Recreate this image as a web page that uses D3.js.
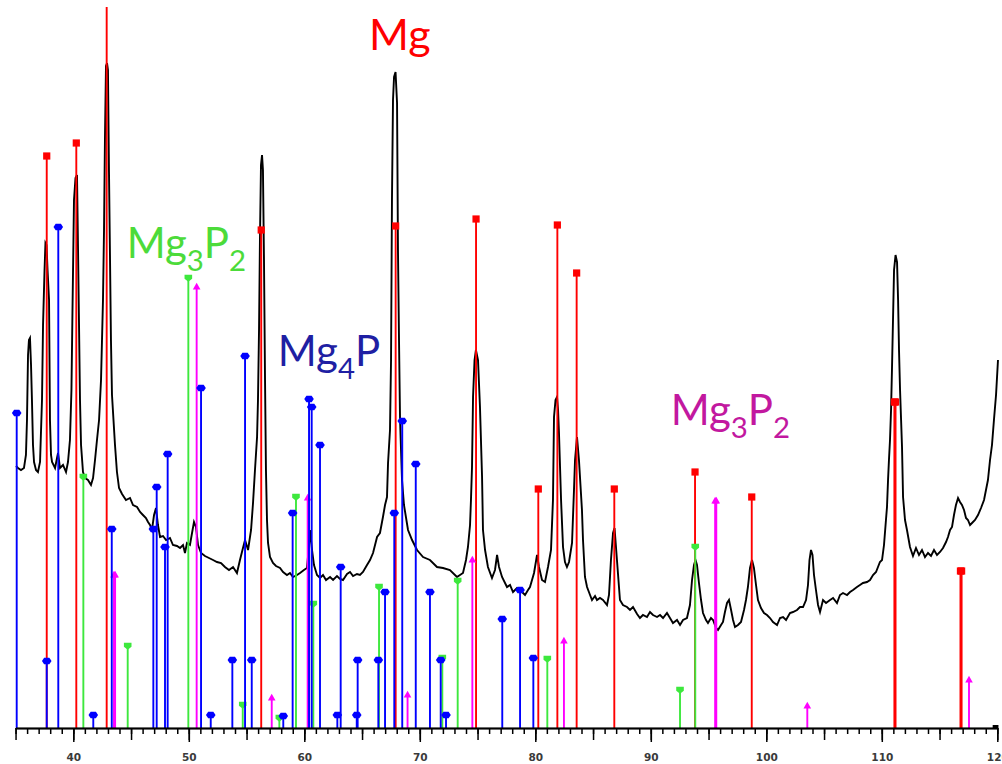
<!DOCTYPE html>
<html><head><meta charset="utf-8">
<script src="https://cdn.jsdelivr.net/npm/d3@7"></script>
<style>html,body{margin:0;padding:0;background:#fff;overflow:hidden}</style>
</head><body><svg id="chart" width="1002" height="764"></svg>
<script>
// Measured XRD pattern: [2theta (deg), intensity (a.u.)]
const patternPoints = [
[35.04,262],[35.21,260],[35.47,258],[35.73,260],[35.90,273],[35.99,308],[36.08,373],[36.16,388],[36.25,390],[36.34,363],[36.42,328],[36.51,283],[36.60,266],[36.77,258],[36.94,256],[37.12,266],[37.29,328],[37.38,403],[37.51,458],[37.59,485],[37.68,483],[37.77,458],[37.90,428],[37.98,308],[38.07,273],[38.16,266],[38.42,260],[38.59,270],[38.68,275],[38.85,260],[39.11,263],[39.37,256],[39.54,266],[39.71,288],[39.84,338],[39.93,418],[40.06,528],[40.19,550],[40.32,553],[40.41,478],[40.49,408],[40.58,328],[40.67,283],[40.84,256],[41.01,250],[41.27,248],[41.53,243],[41.71,250],[41.88,268],[42.05,288],[42.23,308],[42.40,348],[42.57,428],[42.66,498],[42.74,588],[42.83,662],[42.92,665],[43.00,658],[43.09,556],[43.18,468],[43.26,388],[43.35,333],[43.61,283],[43.78,256],[43.96,240],[44.22,234],[44.56,228],[44.91,230],[45.17,223],[45.52,221],[45.78,216],[46.03,213],[46.29,210],[46.47,206],[46.64,203],[46.81,198],[46.99,213],[47.16,220],[47.33,203],[47.51,191],[47.77,192],[48.03,188],[48.37,190],[48.63,183],[48.98,182],[49.24,180],[49.50,183],[49.67,175],[49.84,185],[50.10,183],[50.28,195],[50.45,206],[50.62,201],[50.80,183],[51.06,175],[51.40,172],[51.75,170],[52.10,168],[52.44,166],[52.79,165],[53.13,161],[53.48,158],[53.83,161],[54.17,155],[54.43,168],[54.69,180],[54.87,188],[55.13,178],[55.39,198],[55.56,225],[55.73,258],[55.91,291],[55.99,328],[56.08,398],[56.16,488],[56.25,563],[56.34,573],[56.42,558],[56.51,468],[56.60,348],[56.68,258],[56.77,208],[56.86,185],[57.03,171],[57.29,165],[57.55,162],[57.90,160],[58.16,156],[58.50,153],[58.76,155],[59.02,151],[59.37,153],[59.63,155],[59.97,158],[60.23,160],[60.41,183],[60.49,198],[60.67,178],[60.84,163],[61.10,153],[61.36,150],[61.62,153],[61.88,148],[62.23,151],[62.49,148],[62.83,152],[63.09,149],[63.35,148],[63.70,154],[63.96,156],[64.22,152],[64.56,154],[64.82,153],[65.08,156],[65.43,163],[65.69,168],[65.95,175],[66.30,191],[66.55,195],[66.81,211],[66.99,223],[67.16,231],[67.25,265],[67.42,298],[67.51,368],[67.59,528],[67.68,628],[67.77,651],[67.90,656],[68.03,625],[68.11,478],[68.20,388],[68.29,308],[68.46,248],[68.63,223],[68.98,198],[69.33,188],[69.76,178],[70.28,171],[70.88,168],[71.49,161],[72.01,160],[72.61,158],[73.22,151],[73.48,153],[73.74,155],[74.00,168],[74.17,181],[74.35,203],[74.43,228],[74.52,261],[74.61,331],[74.74,368],[74.86,378],[75.04,368],[75.13,343],[75.21,321],[75.39,251],[75.47,198],[75.65,178],[75.90,161],[76.25,150],[76.51,158],[76.69,173],[76.86,161],[77.12,151],[77.55,141],[77.81,143],[78.07,136],[78.42,140],[78.68,138],[78.94,135],[79.11,133],[79.37,138],[79.54,141],[79.89,155],[80.15,173],[80.32,161],[80.58,148],[80.84,146],[81.10,161],[81.36,178],[81.53,228],[81.62,311],[81.75,328],[81.88,331],[81.97,318],[82.05,295],[82.23,228],[82.40,181],[82.57,166],[82.74,161],[82.92,166],[83.18,185],[83.35,238],[83.44,268],[83.61,291],[83.78,268],[84.04,218],[84.13,188],[84.30,151],[84.48,141],[84.74,133],[84.91,128],[85.17,132],[85.34,128],[85.60,130],[85.86,128],[86.21,123],[86.38,133],[86.55,168],[86.73,195],[86.86,200],[87.07,168],[87.33,128],[87.59,123],[87.94,121],[88.20,118],[88.46,121],[88.81,114],[89.06,110],[89.32,113],[89.67,111],[89.93,116],[90.19,113],[90.54,111],[90.80,113],[91.06,110],[91.40,115],[91.66,110],[91.92,105],[92.27,108],[92.53,103],[92.79,108],[93.13,110],[93.39,123],[93.57,148],[93.74,163],[93.87,168],[94.00,163],[94.17,145],[94.35,128],[94.52,115],[94.78,108],[94.95,105],[95.21,110],[95.39,108],[95.65,100],[95.82,98],[96.08,103],[96.25,106],[96.42,116],[96.60,125],[96.77,128],[96.95,118],[97.12,108],[97.29,101],[97.55,103],[97.81,106],[98.07,118],[98.24,128],[98.41,141],[98.59,160],[98.76,168],[98.93,160],[99.11,143],[99.28,128],[99.54,120],[99.80,115],[100.06,113],[100.32,110],[100.58,106],[100.93,103],[101.19,110],[101.45,111],[101.71,108],[102.05,115],[102.31,116],[102.66,118],[102.92,121],[103.18,121],[103.44,128],[103.61,143],[103.74,168],[103.87,178],[104.00,173],[104.13,153],[104.30,138],[104.48,123],[104.65,116],[104.91,128],[105.17,125],[105.52,128],[105.78,130],[106.12,125],[106.38,133],[106.64,135],[106.99,133],[107.25,136],[107.51,138],[107.85,141],[108.11,143],[108.37,145],[108.72,146],[108.98,148],[109.24,153],[109.50,156],[109.67,161],[109.84,166],[110.02,168],[110.19,183],[110.36,208],[110.45,221],[110.54,248],[110.62,268],[110.71,288],[110.80,318],[110.88,358],[110.97,408],[111.06,458],[111.19,473],[111.32,466],[111.41,428],[111.49,378],[111.58,338],[111.67,308],[111.75,281],[111.84,231],[112.01,208],[112.18,198],[112.44,181],[112.70,172],[112.96,180],[113.22,173],[113.48,178],[113.74,171],[114.00,175],[114.26,172],[114.52,178],[114.78,173],[115.04,176],[115.30,180],[115.56,186],[115.73,191],[115.91,198],[116.08,201],[116.25,213],[116.42,223],[116.60,230],[116.77,226],[116.94,223],[117.12,218],[117.29,210],[117.46,208],[117.64,203],[117.81,205],[118.07,208],[118.33,213],[118.59,220],[118.85,228],[119.02,238],[119.19,248],[119.37,268],[119.54,283],[119.71,308],[119.89,333],[120.06,368]
];

// Reference stick patterns: [2theta, relative intensity]
const mgPeaks = [[37.70,572],[40.26,585],[42.89,760],[56.27,498],[67.91,502],[74.87,509],[80.26,239],[81.91,503],[83.58,455],[86.84,239],[93.83,256],[98.74,231],[111.09,326],[111.19,326],[116.81,157],[116.91,157]];
const mg3p2GreenPeaks = [[40.87,251],[44.71,82],[49.96,450],[54.67,23],[57.84,10],[59.28,231],[60.78,124],[66.47,141],[71.95,70],[73.28,147],[81.04,69],[92.53,38],[93.85,181]];
const mg3p2MagentaPeaks = [[43.52,153],[43.62,153],[50.68,441],[57.18,30],[60.29,230],[68.94,33],[74.55,168],[82.48,87],[95.57,227],[95.67,227],[103.55,22],[117.55,48]];
const mg4pPeaks = [[35.10,315],[37.70,67],[38.70,501],[41.73,13],[43.33,199],[46.93,199],[47.22,241],[47.94,181],[48.17,274],[51.06,340],[51.90,13],[53.77,68],[54.87,372],[55.45,68],[58.18,12],[58.99,215],[60.41,329],[60.64,321],[61.36,283],[62.86,13],[63.15,161],[64.54,13],[64.62,68],[66.41,68],[66.99,136],[67.79,215],[68.48,307],[69.65,264],[70.88,136],[71.81,68],[72.27,13],[77.14,109],[78.68,138],[79.83,70]];

const tickLabels = [40,50,60,70,80,90,100,110,120];

// Phase labels: text parts [text, isSubscript], anchor in data coords [2theta, intensity]
const phaseLabels = [
  {key:'mg',   parts:[['Mg',0]],                          at:[65.60,678]},
  {key:'green',parts:[['Mg',0],['3',1],['P',0],['2',1]],  at:[44.62,470]},
  {key:'blue', parts:[['Mg',0],['4',1],['P',0]],          at:[57.70,362]},
  {key:'mag',  parts:[['Mg',0],['3',1],['P',0],['2',1]],  at:[91.72,303]}
];

const W = 1002, H = 764;
const svg = d3.select('#chart');
const x = d3.scaleLinear().domain([35,120]).range([15.55,997.3]);
const y = d3.scaleLinear().domain([0,721]).range([728,7]);

svg.append('defs').append('clipPath').attr('id','plotclip')
  .append('rect').attr('x',0).attr('y',y(721)).attr('width',W).attr('height',y(0)-y(721));

const plot = svg.append('g').attr('clip-path','url(#plotclip)');

// measured pattern
plot.append('path').datum(patternPoints)
  .attr('fill','none').attr('stroke','#000').attr('stroke-width',1.9).attr('stroke-linejoin','miter')
  .attr('d', d3.line().x(d=>x(d[0])).y(d=>y(d[1])));

const styles = {
  red:{color:'#ff0000'}, mag:{color:'#ff00ff'}, green:{color:'#3de83d'}, blue:{color:'#0000ff'}
};

function sticks(data, color, marker){
  const g = plot.append('g');
  g.selectAll('line').data(data).join('line')
    .attr('x1',d=>x(d[0])).attr('x2',d=>x(d[0]))
    .attr('y1',y(0)).attr('y2',d=>y(d[1]))
    .attr('stroke',color).attr('stroke-width',1.9);
  const m = g.selectAll('.mk').data(data).join('g').attr('class','mk')
    .attr('transform',d=>`translate(${x(d[0])},${y(d[1])})`);
  marker(m, color);
}
const squareMk = (m,c)=> m.append('rect').attr('x',-3.6).attr('y',-3.6).attr('width',7.2).attr('height',7.2).attr('fill',c);
const ellipseMk = (m,c)=> m.append('path').attr('d','M-4.8,0 L-2.6,-3.3 L2.6,-3.3 L4.8,0 L2.6,3.3 L-2.6,3.3 Z').attr('fill',c);
const pentMk = (m,c)=> m.append('path').attr('d','M-3.8,-3.2 L3.8,-3.2 L3.8,0.8 L0,3.8 L-3.8,0.8 Z').attr('fill',c);
const triMk = (m,c)=> m.append('path').attr('d','M0,-4.2 L3.8,2.6 L-3.8,2.6 Z').attr('fill',c);

sticks(mgPeaks, styles.red.color, squareMk);
sticks(mg3p2MagentaPeaks, styles.mag.color, triMk);
sticks(mg3p2GreenPeaks, styles.green.color, pentMk);
sticks(mg4pPeaks, styles.blue.color, ellipseMk);

// axis
const axG = svg.append('g').attr('transform',`translate(0,${y(0)})`);
const minor = d3.axisBottom(x).tickValues(d3.range(35,121,1)).tickSize(6).tickSizeOuter(0).tickFormat('');
const mid = d3.axisBottom(x).tickValues(d3.range(35,121,5)).tickSize(12).tickSizeOuter(0).tickFormat('');
const major = d3.axisBottom(x).tickValues(tickLabels).tickSize(14).tickSizeOuter(0).tickPadding(12).tickFormat(d3.format('d'));
axG.append('g').call(minor);
axG.append('g').call(mid);
const majG = axG.append('g').call(major);
axG.selectAll('path.domain').attr('stroke','#000').attr('stroke-width',1.6);
axG.selectAll('.tick line').attr('stroke','#000').attr('stroke-width',1.5);
majG.selectAll('text').attr('font-family','DejaVu Sans, sans-serif').attr('font-size',10.5).attr('font-weight','bold').attr('fill','#3a3a3a');
axG.append('rect').attr('x',x(119.6)).attr('y',-3).attr('width',x(120.1)-x(119.6)).attr('height',3).attr('fill','#000');

// phase labels
const labelColor = {mg:'#ff0000', green:'#4cdb3a', blue:'#1f1fa3', mag:'#c2189f'};
const labelSize = {mg:43, green:42, blue:42, mag:42};
phaseLabels.forEach(l=>{
  const fs = labelSize[l.key];
  const t = svg.append('text').attr('x',x(l.at[0])).attr('y',y(l.at[1]))
    .attr('font-family','Lato, "Open Sans", sans-serif').attr('font-size',fs).attr('fill',labelColor[l.key]);
  let sub = false;
  l.parts.forEach(p=>{
    const s = t.append('tspan').text(p[0]);
    if(p[1] && !sub){ s.attr('font-size',fs*0.7).attr('dy',13); sub=true; }
    else if(!p[1] && sub){ s.attr('font-size',fs).attr('dy',-13); sub=false; }
    else if(p[1]) s.attr('font-size',fs*0.7);
  });
});
</script></body></html>
